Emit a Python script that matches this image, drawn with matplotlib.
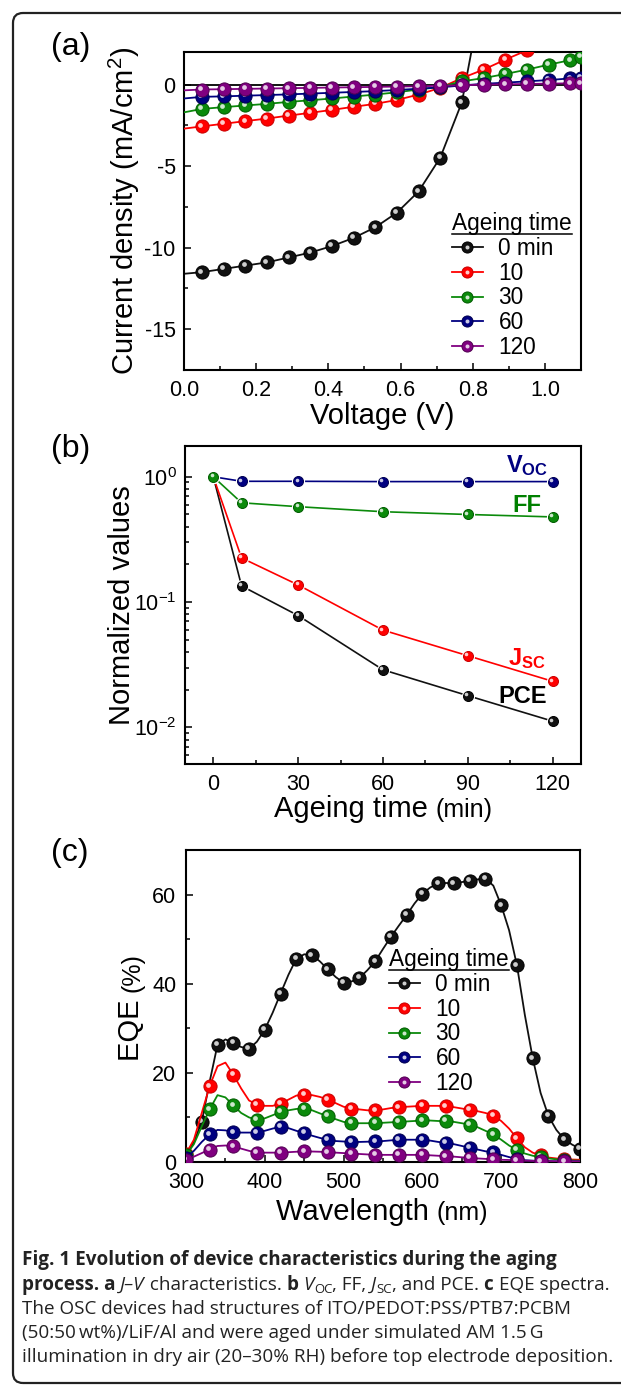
import numpy as np
import matplotlib
matplotlib.use('Agg')
import matplotlib.pyplot as plt
from matplotlib.lines import Line2D
from matplotlib.patches import FancyBboxPatch
from matplotlib.transforms import IdentityTransform, offset_copy
from matplotlib.ticker import MultipleLocator, FormatStrFormatter, LogLocator, NullFormatter

plt.rcParams['font.family'] = ['Liberation Sans', 'DejaVu Sans']
plt.rcParams['mathtext.fontset'] = 'custom'
plt.rcParams['mathtext.rm'] = 'Liberation Sans'
plt.rcParams['mathtext.it'] = 'Liberation Sans:italic'
plt.rcParams['mathtext.bf'] = 'Liberation Sans:bold'
plt.rcParams['mathtext.sf'] = 'Liberation Sans'
plt.rcParams['axes.unicode_minus'] = False

# ---------------- data ----------------
ageing_labels = ['0 min', '10', '30', '60', '120']
series_colors = ['#111111', '#ff0000', '#0b8a0b', '#000080', '#800080']
edge_colors = ['#000000', '#c80000', '#005a00', '#000050', '#500050']

# (a) J-V curves
voltage = [0.00, 0.05, 0.11, 0.17, 0.23, 0.29, 0.35, 0.41, 0.47, 0.53, 0.59,
           0.65, 0.71, 0.77, 0.83, 0.89, 0.95, 1.01, 1.07, 1.10]
j_0min = [-11.6, -11.5, -11.3, -11.1, -10.9, -10.6, -10.3, -9.9, -9.4, -8.75,
          -7.85, -6.55, -4.48, -1.08, 6.0]
j_10min = [-2.7, -2.56, -2.4, -2.24, -2.08, -1.9, -1.73, -1.55, -1.36, -1.18,
           -0.94, -0.61, -0.2, 0.4, 0.92, 1.53, 2.1, 2.8, 3.5, 3.9]
j_30min = [-1.7, -1.49, -1.38, -1.28, -1.18, -1.06, -0.96, -0.85, -0.73, -0.61,
           -0.47, -0.3, -0.14, 0.2, 0.4, 0.65, 0.92, 1.22, 1.5, 1.7]
j_60min = [-0.85, -0.75, -0.72, -0.68, -0.64, -0.6, -0.55, -0.5, -0.45, -0.4,
           -0.33, -0.25, -0.17, -0.05, 0.05, 0.12, 0.2, 0.28, 0.38, 0.42]
j_120min = [-0.35, -0.3, -0.28, -0.26, -0.24, -0.22, -0.2, -0.18, -0.16, -0.14,
            -0.12, -0.1, -0.07, -0.04, 0.0, 0.02, 0.04, 0.06, 0.08, 0.09]

# (b) normalized parameters
age_time = [0, 10, 30, 60, 90, 120]
voc_norm = [1.0, 0.92, 0.92, 0.915, 0.915, 0.915]
ff_norm = [1.0, 0.62, 0.577, 0.526, 0.50, 0.478]
jsc_norm = [1.0, 0.225, 0.137, 0.0597, 0.0373, 0.0233]
pce_norm = [1.0, 0.1345, 0.078, 0.0288, 0.0179, 0.0112]

# (c) EQE spectra
wavelength = list(range(300, 801, 10))
eqe_0min = [1.5, 4.5, 9.0, 18.0, 26.3, 27.5, 26.7, 25.8, 25.4, 27.0, 29.7, 33.5,
            37.8, 42.0, 45.6, 46.6, 46.4, 45.0, 43.2, 41.5, 40.2, 40.5, 41.3,
            43.0, 45.0, 47.8, 50.5, 53.0, 55.4, 58.0, 60.2, 61.6, 62.5, 62.6,
            62.5, 62.8, 63.1, 63.4, 63.6, 62.0, 57.6, 52.0, 44.1, 33.0, 23.3,
            15.5, 10.3, 7.2, 5.1, 3.9, 3.0]
eqe_10min = [1.9, 5.0, 11.0, 17.0, 21.5, 22.3, 19.6, 16.5, 13.8, 12.9, 12.6, 12.6,
             13.1, 14.0, 14.9, 15.1, 15.0, 14.6, 14.0, 13.2, 12.4, 12.0, 11.8,
             11.6, 11.6, 11.8, 12.1, 12.3, 12.4, 12.5, 12.6, 12.6, 12.6, 12.5,
             12.3, 12.0, 11.7, 11.4, 11.0, 10.4, 9.2, 7.5, 5.3, 3.3, 2.1, 1.5,
             1.0, 0.8, 0.6, 0.55, 0.5]
eqe_30min = [1.5, 4.0, 8.0, 11.8, 15.0, 14.5, 12.7, 11.0, 10.0, 9.5, 9.8, 10.5,
             11.2, 11.6, 11.9, 12.0, 11.6, 10.9, 10.3, 9.6, 9.0, 8.75, 8.7, 8.7,
             8.75, 8.8, 8.9, 9.0, 9.1, 9.2, 9.35, 9.3, 9.2, 9.2, 9.0, 8.7, 8.4,
             7.8, 7.0, 6.2, 5.0, 3.7, 2.7, 1.9, 1.4, 1.1, 0.8, 0.6, 0.4, 0.35, 0.3]
eqe_60min = [1.0, 2.5, 4.5, 6.2, 7.2, 7.1, 6.7, 6.6, 6.6, 6.6, 7.0, 7.5, 7.9,
             7.6, 7.0, 6.5, 5.9, 5.4, 5.0, 4.7, 4.6, 4.5, 4.5, 4.55, 4.6, 4.7,
             4.85, 5.0, 5.0, 5.0, 5.0, 4.8, 4.5, 4.3, 4.0, 3.6, 3.2, 2.8, 2.4,
             2.2, 1.6, 1.1, 0.7, 0.4, 0.3, 0.2, 0.2, 0.15, 0.15, 0.15, 0.15]
eqe_120min = [0.5, 1.2, 2.0, 2.8, 3.6, 3.7, 3.5, 3.0, 2.5, 2.1, 2.1, 2.1, 2.1,
              2.2, 2.3, 2.4, 2.35, 2.3, 2.2, 2.1, 2.0, 1.9, 1.8, 1.7, 1.6, 1.6,
              1.6, 1.6, 1.6, 1.6, 1.6, 1.5, 1.4, 1.3, 1.2, 1.05, 0.9, 0.8, 0.7,
              0.6, 0.5, 0.45, 0.4, 0.3, 0.25, 0.2, 0.2, 0.15, 0.15, 0.15, 0.15]

# ---------------- figure ----------------
W, H = 621, 1387
fig = plt.figure(figsize=(W / 100, H / 100), dpi=100)
renderer = fig.canvas.get_renderer()

TICK_FS = 15.5
LABEL_FS = 21
UNIT_FS = 18
LEG_FS = 16.3
PANEL_FS = 23


def add_axes_px(l, t, r, b):
    return fig.add_axes([l / W, 1 - b / H, (r - l) / W, (b - t) / H])


def style_axes(ax):
    for sp in ax.spines.values():
        sp.set_linewidth(1.5)
    ax.tick_params(which='both', direction='in', top=False, right=False,
                   labelsize=TICK_FS, width=1.1)
    ax.tick_params(which='major', length=5)
    ax.tick_params(which='minor', length=3)
    ax.tick_params(axis='x', which='major', pad=7.5)
    ax.tick_params(axis='y', which='major', pad=6)


def spheres(ax, x, y, color, edge, ms, z):
    ax.plot(x, y, ls='none', marker='o', ms=ms, mfc=color, mec=edge, mew=0.7,
            zorder=z)
    ax.plot(x, y, ls='none', marker='o', ms=ms * 0.36, mfc='white', mec='none',
            alpha=0.8, zorder=z + 0.1,
            transform=offset_copy(ax.transData, x=-1.6, y=1.6, units='dots'))


def legend_handles(ms):
    hs = []
    for c, e in zip(series_colors, edge_colors):
        h1 = Line2D([], [], color=c, lw=1.3, marker='o', ms=ms, mfc=c, mec=e, mew=0.7)
        h2 = Line2D([], [], ls='none', marker='o', ms=ms * 0.36, mfc='white',
                    mec='none', alpha=0.8)
        hs.append((h1, h2))
    return hs


def measure(s, **kw):
    t = fig.text(0, 0, s, **kw)
    w = t.get_window_extent(renderer).width
    t.remove()
    return w


def advance(s, **kw):
    return measure(s + '|', **kw) - measure('|', **kw)


def rich_h(pieces, x, y, align='left'):
    advs = [advance(s, **kw) for s, kw, dy in pieces]
    total = sum(advs)
    x0 = x - total / 2 if align == 'center' else x
    for (s, kw, dy), a in zip(pieces, advs):
        fig.text(x0 / W, 1 - (y + dy) / H, s, ha='left', va='baseline', **kw)
        x0 += a


def rich_v(pieces, xb, yc):
    advs = [advance(s, **kw) for s, kw, dy in pieces]
    total = sum(advs)
    y0 = yc + total / 2
    for (s, kw, dy), a in zip(pieces, advs):
        fig.text(xb / W, 1 - y0 / H, s, rotation=90, rotation_mode='anchor',
                 ha='left', va='baseline', **kw)
        y0 -= a


def underline_title(leg):
    fig.canvas.draw()
    bb = leg.get_title().get_window_extent(renderer)
    inv = fig.transFigure.inverted()
    (x0, y0), (x1, _) = inv.transform([(bb.x0, bb.y0 + 1), (bb.x1, bb.y0 + 1)])
    fig.add_artist(Line2D([x0, x1], [y0, y0], color='black', lw=1.1,
                          transform=fig.transFigure))


# outer rounded frame
frame = FancyBboxPatch((13, 4), 700, 1370, boxstyle='round,pad=0,rounding_size=10',
                       fill=False, ec='#222222', lw=1.6, transform=IdentityTransform())
fig.add_artist(frame)

leg_kw = dict(frameon=False, fontsize=LEG_FS, title_fontsize=LEG_FS,
              alignment='left', borderpad=0, borderaxespad=0, handlelength=1.35,
              handletextpad=0.7, labelspacing=0.08, loc='upper left',
              bbox_transform=fig.transFigure)

# ---------------- panel (a) ----------------
axa = add_axes_px(184, 52, 581, 370)
style_axes(axa)
axa.axhline(0, color='black', lw=1.3, zorder=1)
jv_sets = [j_0min, j_10min, j_30min, j_60min, j_120min]
for i, (jv, c, e) in enumerate(zip(jv_sets, series_colors, edge_colors)):
    v = voltage[:len(jv)]
    axa.plot(v, jv, color=c, lw=1.3, zorder=2 + i)
    spheres(axa, v[1:], jv[1:], c, e, 9.5, 2.5 + i)
axa.set_xlim(0, 1.1)
axa.set_ylim(-17.5, 2)
axa.xaxis.set_major_locator(MultipleLocator(0.2))
axa.xaxis.set_minor_locator(MultipleLocator(0.1))
axa.xaxis.set_major_formatter(FormatStrFormatter('%.1f'))
axa.yaxis.set_major_locator(MultipleLocator(5))
axa.yaxis.set_minor_locator(MultipleLocator(2.5))
axa.yaxis.set_major_formatter(FormatStrFormatter('%d'))
lega = axa.legend(legend_handles(8), ageing_labels, title='Ageing time',
                  bbox_to_anchor=(452 / W, 1 - 212 / H), **leg_kw)

fig.text(51 / W, 1 - 47 / H, '(a)', fontsize=PANEL_FS, ha='left', va='center')
rich_h([('Voltage (V)', dict(fontsize=LABEL_FS), 0)], 382, 424, align='center')
rich_v([('Current density (mA/cm$^2$)', dict(fontsize=LABEL_FS), 0)], 134, 211)

# ---------------- panel (b) ----------------
axb = add_axes_px(185, 446, 581, 764)
style_axes(axb)
axb.set_yscale('log')
b_sets = [(pce_norm, series_colors[0], edge_colors[0]),
          (jsc_norm, series_colors[1], edge_colors[1]),
          (voc_norm, series_colors[3], edge_colors[3]),
          (ff_norm, series_colors[2], edge_colors[2])]
for i, (vals, c, e) in enumerate(b_sets):
    axb.plot(age_time, vals, color=c, lw=1.2, zorder=2 + i)
    axb.plot(age_time, vals, ls='none', marker='o', ms=8.5, mfc='white', mec='white',
             zorder=2.3 + i)
    spheres(axb, age_time, vals, c, e, 7.2, 2.5 + i)
axb.set_xlim(-10, 130)
axb.set_ylim(0.0051, 1.76)
axb.xaxis.set_major_locator(MultipleLocator(30))
axb.xaxis.set_minor_locator(MultipleLocator(15))
axb.yaxis.set_major_locator(LogLocator(base=10))
axb.yaxis.set_minor_locator(LogLocator(base=10, subs=np.arange(2, 10)))
axb.yaxis.set_minor_formatter(NullFormatter())

lab_kw = dict(fontsize=17, fontweight='bold', ha='right', va='baseline')
fig.text(548 / W, 1 - 472 / H, r'$\mathbf{V}_{\mathbf{OC}}$', color='#000080', **lab_kw)
fig.text(541 / W, 1 - 512 / H, 'FF', color='#008000', **lab_kw)
fig.text(546 / W, 1 - 665 / H, r'$\mathbf{J}_{\mathbf{SC}}$', color='#ff0000', **lab_kw)
fig.text(547 / W, 1 - 703 / H, 'PCE', color='black', **lab_kw)

fig.text(51 / W, 1 - 449 / H, '(b)', fontsize=PANEL_FS, ha='left', va='center')
rich_h([('Ageing time ', dict(fontsize=LABEL_FS), 0),
        ('(min)', dict(fontsize=UNIT_FS), 0)], 383, 817, align='center')
rich_v([('Normalized values', dict(fontsize=LABEL_FS), 0)], 130, 605)

# ---------------- panel (c) ----------------
axc = add_axes_px(186, 850, 580, 1162)
style_axes(axc)
eqe_sets = [eqe_0min, eqe_10min, eqe_30min, eqe_60min, eqe_120min]
for i, (vals, c, e) in enumerate(zip(eqe_sets, series_colors, edge_colors)):
    axc.plot(wavelength, vals, color=c, lw=1.3, zorder=2 + i)
    if i == 0:
        spheres(axc, wavelength[2::2], vals[2::2], c, e, 9.5, 2.5 + i)
    else:
        spheres(axc, wavelength[::3], vals[::3], c, e, 9.5, 2.5 + i)
axc.set_xlim(300, 800)
axc.set_ylim(0, 70)
axc.xaxis.set_major_locator(MultipleLocator(100))
axc.xaxis.set_minor_locator(MultipleLocator(50))
axc.yaxis.set_major_locator(MultipleLocator(20))
axc.yaxis.set_minor_locator(MultipleLocator(10))
axc.tick_params(axis='y', which='major', pad=7)
legc = axc.legend(legend_handles(8), ageing_labels, title='Ageing time',
                  bbox_to_anchor=(389 / W, 1 - 948 / H), **leg_kw)

fig.text(51 / W, 1 - 853 / H, '(c)', fontsize=PANEL_FS, ha='left', va='center')
rich_h([('Wavelength ', dict(fontsize=LABEL_FS), 0),
        ('(nm)', dict(fontsize=UNIT_FS), 0)], 382, 1220, align='center')
rich_v([('EQE ', dict(fontsize=LABEL_FS), 0),
        ('(%)', dict(fontsize=UNIT_FS), 0)], 139, 1007)

# ---------------- caption ----------------
CAP_FONT = 'Open Sans'
line5 = 'illumination in dry air (20\u201330% RH) before top electrode deposition.'
cs = 12 * 589 / measure(line5, fontsize=12, family=CAP_FONT)
reg = dict(fontsize=cs, family=CAP_FONT, color='#222222')
bld = dict(fontsize=cs, family=CAP_FONT, fontweight='bold', color='#222222')
itl = dict(fontsize=cs, family=CAP_FONT, fontstyle='italic', color='#222222')
subr = dict(fontsize=cs * 0.7, family=CAP_FONT, color='#222222')
cx = 22
rich_h([('Fig. 1 Evolution of device characteristics during the aging', bld, 0)], cx, 1265)
rich_h([('process. a ', bld, 0), ('J\u2013V', itl, 0), (' characteristics. ', reg, 0),
        ('b ', bld, 0), ('V', itl, 0), ('OC', subr, 3), (', FF, ', reg, 0),
        ('J', itl, 0), ('SC', subr, 3), (', and PCE. ', reg, 0), ('c ', bld, 0),
        ('EQE spectra.', reg, 0)], cx, 1290)
rich_h([('The OSC devices had structures of ITO/PEDOT:PSS/PTB7:PCBM', reg, 0)], cx, 1314)
rich_h([('(50:50\u2009wt%)/LiF/Al and were aged under simulated AM 1.5\u2009G', reg, 0)], cx, 1338)
rich_h([(line5, reg, 0)], cx, 1362)

underline_title(lega)
underline_title(legc)

fig.savefig('out.png', dpi=100)
